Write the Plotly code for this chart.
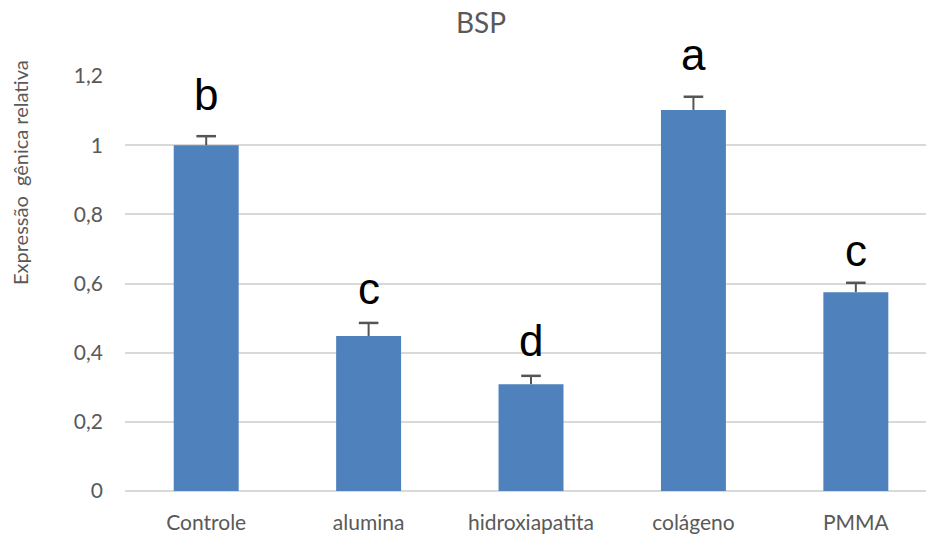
import plotly.graph_objects as go

# BSP relative gene expression per material
categories = ["Controle", "alumina", "hidroxiapatita", "colágeno", "PMMA"]
expression = [1.0, 0.448, 0.309, 1.102, 0.575]
error_upper = [0.026, 0.038, 0.024, 0.038, 0.027]
group_letters = ["b", "c", "d", "a", "c"]
y_ticks = [0, 0.2, 0.4, 0.6, 0.8, 1.0, 1.2]
y_tick_text = ["0", "0,2", "0,4", "0,6", "0,8", "1", "1,2"]

W, H = 926, 535
L, R, T, B = 125, 0, 76, 44

text_grey = "#595959"
grid_grey = "#d9d9d9"
err_grey = "#555555"
font_family = "Lato, 'Open Sans', sans-serif"

fig = go.Figure()
fig.add_trace(go.Bar(
    x=categories,
    y=expression,
    width=0.4,
    marker=dict(color="#4f81bd", line=dict(width=0)),
    # upper-only whisker; the cap is drawn by the marker trace below
    error_y=dict(
        type="data",
        symmetric=False,
        array=error_upper,
        arrayminus=[0] * len(error_upper),
        color=err_grey,
        thickness=2,
        width=0,
    ),
    hoverinfo="skip",
))

# whisker caps
fig.add_trace(go.Scatter(
    x=categories,
    y=[v + e for v, e in zip(expression, error_upper)],
    mode="markers",
    marker=dict(symbol="line-ew", size=14, line=dict(width=2.5, color=err_grey)),
    hoverinfo="skip",
))

# significance letters above each error bar
letter_yshift = [15, 8, 9, 16, 6]
for cat, v, e, letter, dy in zip(categories, expression, error_upper, group_letters, letter_yshift):
    fig.add_annotation(
        x=cat, y=v + e, xref="x", yref="y",
        text=letter, showarrow=False,
        yanchor="bottom", yshift=dy,
        font=dict(family="'Liberation Sans', Arial, sans-serif", size=44, color="#000000"),
    )

# y-axis title
plot_h = H - T - B
fig.add_annotation(
    x=(20 - L) / (W - L - R), y=(H - B - 173) / plot_h,
    xref="paper", yref="paper",
    text="Expressão  gênica relativa", showarrow=False,
    textangle=-90, xanchor="center", yanchor="middle",
    font=dict(family=font_family, size=20, color=text_grey),
)

fig.update_layout(
    width=W, height=H,
    margin=dict(l=L, r=R, t=T, b=B, pad=0),
    paper_bgcolor="white", plot_bgcolor="white",
    showlegend=False,
    title=dict(
        text="BSP", xref="container", yref="container",
        x=481 / W, y=1 - 23 / H, xanchor="center", yanchor="middle",
        font=dict(family=font_family, size=28, color=text_grey),
    ),
    xaxis=dict(
        range=[-0.5, 4.432],
        showgrid=False, zeroline=False,
        showline=False,
        ticks="", ticklabelstandoff=17,
        tickfont=dict(family=font_family, size=21, color=text_grey),
    ),
    yaxis=dict(
        range=[0, 1.2],
        tickvals=y_ticks, ticktext=y_tick_text,
        showgrid=True, gridcolor=grid_grey, gridwidth=1.5,
        zeroline=True, zerolinecolor=grid_grey, zerolinewidth=1.5,
        showline=False, ticks="", ticklabelstandoff=21,
        tickfont=dict(family=font_family, size=21, color=text_grey),
    ),
)

fig.write_html("out.html")
